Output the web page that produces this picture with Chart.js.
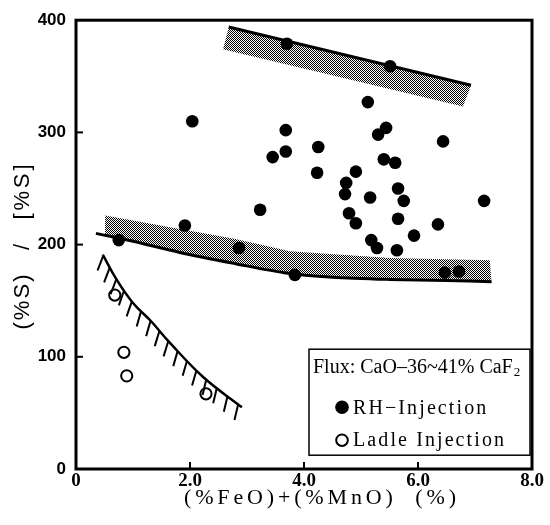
<!DOCTYPE html>
<html><head><meta charset="utf-8">
<script src="https://cdn.jsdelivr.net/npm/chart.js@4/dist/chart.umd.min.js"></script>
<style>html,body{margin:0;padding:0;background:#fff;}#wrap{width:550px;height:525px;position:relative;}canvas{display:block;}</style>
</head><body><div id="wrap"><canvas id="c" width="550" height="525" style="width:550px;height:525px"></canvas></div>
<script>
// ---- data ----
const xTickLabels = ['0', '2.0', '4.0', '6.0', '8.0'];
const yTickLabels = ['0', '100', '200', '300', '400'];

const rhX = [0.75, 1.91, 2.04, 2.86, 3.23, 3.45, 3.70, 5.51, 5.12, 3.68, 3.68, 4.25, 4.23, 5.44, 5.30, 6.44, 5.40, 5.60, 4.91, 4.74, 4.72, 5.16, 5.65, 5.75, 7.16, 4.79, 4.91, 5.65, 6.35, 5.93, 5.18, 5.28, 5.63, 3.84, 6.47, 6.72];
const rhY = [204, 217, 310, 197, 231, 278, 379, 359, 327, 302, 283, 287, 264, 304, 298, 292, 276, 273, 265, 255, 245, 242, 250, 239, 239, 228, 219, 223, 218, 208, 204, 197, 195, 173, 175, 176];

const ladleX = [0.68, 0.84, 0.89, 2.28];
const ladleY = [155, 104, 83, 67];

const upperLineX = [2.68, 6.93];
const upperLineY = [394, 342];
const upperBandBottomX = [2.58, 6.79];
const upperBandBottomY = [374, 323];

const lowerLineX = [0.35, 1.0, 1.82, 2.8, 3.65, 4.5, 5.5, 6.5, 7.29];
const lowerLineY = [210, 203, 193, 183, 175, 171, 169, 168, 167];
const lowerBandTopX = [0.51, 1.82, 2.8, 3.75, 5.5, 7.26];
const lowerBandTopY = [226, 214, 205, 194, 188, 186];
const lowerBandBottomX = [0.51, 1.0, 1.82, 2.8, 3.65, 4.5, 5.5, 6.5, 7.29];
const lowerBandBottomY = [208, 203, 193, 183, 175, 171, 169, 168, 167];

const limitX = [0.47, 0.71, 1.0, 1.33, 1.62, 2.23, 2.91];
const limitY = [191, 169, 148, 131, 114, 82, 55];

const legendTitle = 'Flux: CaO\u201236~41% CaF';
const legendTitleSub = '2';
const legendRH = 'RH\u2212Injection';
const legendLadle = 'Ladle Injection';
const xTitle = '(%FeO)+(%MnO)  (%)';
const yTitleParts = ['(%S)', '/', '[%S]'];

// ---- helpers ----
const pts = (xs, ys) => xs.map((v, i) => ({ x: v, y: ys[i] }));
const polygon = (ax, ay, bx, by) => pts(ax.concat(bx.slice().reverse()), ay.concat(by.slice().reverse()));

const canvas = document.getElementById('c');
const mainCtx = canvas.getContext('2d');
function makePattern() {
  const c = document.createElement('canvas');
  c.width = 2; c.height = 2;
  const g = c.getContext('2d');
  g.fillStyle = '#fff'; g.fillRect(0, 0, 2, 2);
  g.fillStyle = '#000'; g.fillRect(0, 0, 1, 1); g.fillRect(1, 1, 1, 1);
  return mainCtx.createPattern(c, 'repeat');
}
const pattern = makePattern();

function fitText(ctx, text, cx, cy, width) {
  try { ctx.letterSpacing = '0px'; } catch (e) {}
  const w = ctx.measureText(text).width;
  const n = [...text].length;
  const sp = Math.max(0, (width - w) / Math.max(1, n - 1));
  try { ctx.letterSpacing = sp.toFixed(2) + 'px'; } catch (e) {}
  ctx.textAlign = 'left';
  ctx.fillText(text, cx - width / 2, cy);
  try { ctx.letterSpacing = '0px'; } catch (e) {}
}

const IDX_LIMIT = 6;

const decor = {
  id: 'decor',
  afterDatasetsDraw(chart) {
    const ctx = chart.ctx;
    const meta = chart.getDatasetMeta(IDX_LIMIT);
    const p = meta.data.map(e => ({ x: e.x, y: e.y }));
    const segs = []; let total = 0;
    for (let i = 0; i < p.length - 1; i++) {
      const dx = p[i + 1].x - p[i].x, dy = p[i + 1].y - p[i].y, L = Math.hypot(dx, dy);
      segs.push({ p: p[i], dx, dy, L, start: total }); total += L;
    }
    ctx.save();
    ctx.strokeStyle = '#000'; ctx.lineWidth = 2; ctx.lineCap = 'butt';
    const spacing = 13.5, len = 16;
    for (let s = 1; s <= total; s += spacing) {
      let seg = segs[segs.length - 1];
      for (const g of segs) { if (s >= g.start && s <= g.start + g.L) { seg = g; break; } }
      const t = (s - seg.start) / seg.L;
      const px = seg.p.x + seg.dx * t, py = seg.p.y + seg.dy * t;
      const tx = seg.dx / seg.L, ty = seg.dy / seg.L;
      let mx = -ty, my = tx + 1.8;
      const n = Math.hypot(mx, my); mx /= n; my /= n;
      ctx.beginPath(); ctx.moveTo(px, py); ctx.lineTo(px + mx * len, py + my * len); ctx.stroke();
    }
    ctx.restore();
  },
  afterDraw(chart) {
    const { ctx, chartArea: a, scales: { x, y } } = chart;
    ctx.save();
    ctx.strokeStyle = '#000'; ctx.fillStyle = '#000';
    ctx.lineWidth = 3;
    ctx.strokeRect(a.left, a.top, a.right - a.left, a.bottom - a.top);
    ctx.lineWidth = 2;
    y.ticks.forEach(t => {
      if (t.value <= y.min || t.value >= y.max) return;
      const py = y.getPixelForValue(t.value);
      ctx.beginPath(); ctx.moveTo(a.left, py); ctx.lineTo(a.left + 7, py); ctx.stroke();
    });
    x.ticks.forEach(t => {
      if (t.value <= x.min || t.value >= x.max) return;
      const px = x.getPixelForValue(t.value);
      ctx.beginPath(); ctx.moveTo(px, a.bottom); ctx.lineTo(px, a.bottom - 7); ctx.stroke();
    });

    // legend box
    const L = a.right - 223, T = a.top + 329, R = a.right - 2, B = a.top + 435;
    ctx.lineWidth = 1.5;
    ctx.fillStyle = '#fff';
    ctx.fillRect(L, T, R - L, B - T);
    ctx.strokeRect(L, T, R - L, B - T);
    ctx.fillStyle = '#000';
    ctx.textAlign = 'left'; ctx.textBaseline = 'alphabetic';
    ctx.font = '20px "Liberation Serif"';
    ctx.fillText(legendTitle, L + 4, T + 24);
    const w = ctx.measureText(legendTitle).width;
    ctx.font = '13px "Liberation Serif"';
    ctx.fillText(legendTitleSub, L + 4 + w + 1, T + 27);
    ctx.font = '20px "Liberation Serif"';
    try { ctx.letterSpacing = '2.1px'; } catch (e) {}
    ctx.beginPath(); ctx.arc(L + 33, T + 58, 6.8, 0, Math.PI * 2); ctx.fill();
    ctx.fillText(legendRH, L + 44, T + 65);
    ctx.lineWidth = 2;
    ctx.beginPath(); ctx.arc(L + 33, T + 91, 5.8, 0, Math.PI * 2); ctx.stroke();
    ctx.fillText(legendLadle, L + 44, T + 97);
    try { ctx.letterSpacing = '0px'; } catch (e) {}

    // x title
    ctx.font = '22px "Liberation Serif"';
    ctx.textBaseline = 'middle';
    fitText(ctx, xTitle, 320, 498, 272);

    // y title (rotated)
    const ys = [302, 247, 192];
    const lens = [55, 14, 55];
    yTitleParts.forEach((s, i) => {
      ctx.save();
      ctx.translate(23, ys[i]);
      ctx.rotate(-Math.PI / 2);
      if (s.length > 1) { ctx.font = '22px "Liberation Sans"'; fitText(ctx, s, 0, 0, lens[i]); }
      else { ctx.textAlign = 'center'; ctx.font = '22px "Liberation Sans"'; ctx.fillText(s, 0, 0); }
      ctx.restore();
    });
    ctx.restore();
  }
};

new Chart(canvas, {
  type: 'line',
  data: {
    datasets: [
      { data: pts(rhX, rhY), showLine: false, pointRadius: 6.3, pointBackgroundColor: '#000', pointBorderWidth: 0, order: 0 },
      { data: pts(ladleX, ladleY), showLine: false, pointRadius: 5.6, pointBackgroundColor: '#fff', pointBorderColor: '#000', pointBorderWidth: 2, order: 0 },
      { data: pts(upperLineX, upperLineY), borderColor: '#000', borderWidth: 3, pointRadius: 0, fill: false, order: 1 },
      { data: polygon(upperLineX, upperLineY, upperBandBottomX, upperBandBottomY), borderWidth: 0, borderColor: 'rgba(0,0,0,0)', backgroundColor: pattern, pointRadius: 0, fill: 'shape', order: 2 },
      { data: pts(lowerLineX, lowerLineY), borderColor: '#000', borderWidth: 3, pointRadius: 0, tension: 0.3, fill: false, order: 1 },
      { data: polygon(lowerBandTopX, lowerBandTopY, lowerBandBottomX, lowerBandBottomY), borderWidth: 0, borderColor: 'rgba(0,0,0,0)', backgroundColor: pattern, pointRadius: 0, fill: 'shape', order: 2 },
      { data: pts(limitX, limitY), borderColor: '#000', borderWidth: 2.5, pointRadius: 0, tension: 0.4, fill: false, order: 1 }
    ]
  },
  options: {
    responsive: false,
    maintainAspectRatio: false,
    devicePixelRatio: 1,
    animation: false,
    events: [],
    layout: { padding: { top: 18, right: 18, left: 0, bottom: 0 } },
    plugins: { legend: { display: false }, tooltip: { enabled: false } },
    scales: {
      x: {
        type: 'linear', min: 0, max: 8,
        afterBuildTicks: s => { s.ticks = xTickLabels.map(v => ({ value: Number(v) })); },
        afterFit: s => { s.height = 56; },
        ticks: { callback: (v, i) => xTickLabels[i], font: { family: 'Liberation Serif', size: 19, weight: 'bold' }, color: '#000', padding: 1, maxRotation: 0, autoSkip: false },
        grid: { display: false, drawTicks: false },
        border: { display: false }
      },
      y: {
        type: 'linear', min: 0, max: 400,
        afterBuildTicks: s => { s.ticks = yTickLabels.map(v => ({ value: Number(v) })); },
        afterFit: s => { s.width = 76; },
        ticks: { callback: (v, i) => yTickLabels[i], font: { family: 'Liberation Sans', size: 17, weight: 'bold' }, color: '#000', padding: 10, autoSkip: false },
        grid: { display: false, drawTicks: false },
        border: { display: false }
      }
    }
  },
  plugins: [decor]
});
</script>
</body></html>
